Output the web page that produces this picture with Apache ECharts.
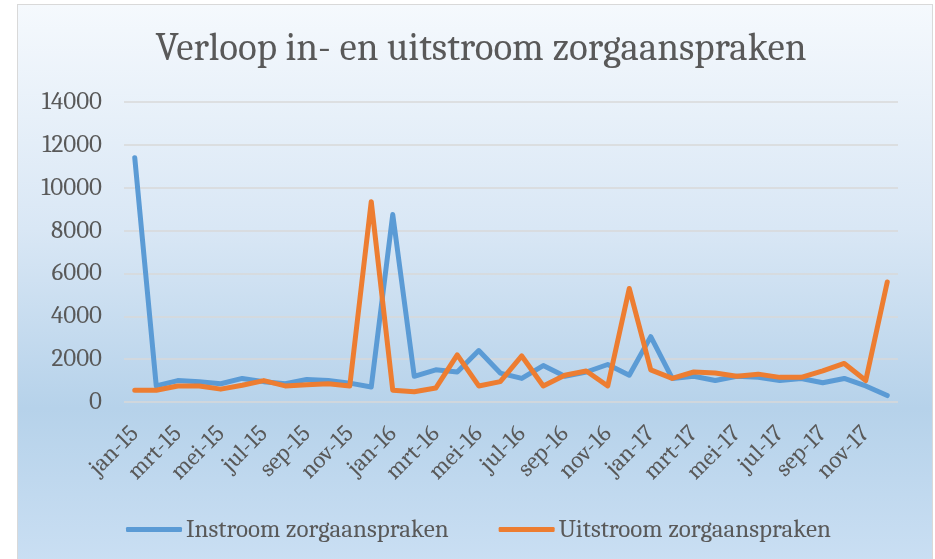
<!DOCTYPE html>
<html>
<head>
<meta charset="utf-8">
<script src="https://cdn.jsdelivr.net/npm/echarts@6/dist/echarts.min.js"></script>
<style>
html,body{margin:0;padding:0;background:#fff;}
#frame{position:absolute;left:17px;top:4px;width:914px;height:560px;border:1px solid #d9d9d9;
background:linear-gradient(to bottom,#f5f9fd 0%,#d9e7f5 40%,#b6d2ea 72%,#cadff3 100%);}
#chart{position:absolute;left:0;top:0;width:935px;height:559px;}
</style>
</head>
<body>
<div id="frame"></div>
<div id="chart"></div>
<script>
const categories = ['jan-15','feb-15','mrt-15','apr-15','mei-15','jun-15','jul-15','aug-15','sep-15','okt-15','nov-15','dec-15',
'jan-16','feb-16','mrt-16','apr-16','mei-16','jun-16','jul-16','aug-16','sep-16','okt-16','nov-16','dec-16',
'jan-17','feb-17','mrt-17','apr-17','mei-17','jun-17','jul-17','aug-17','sep-17','okt-17','nov-17','dec-17'];
const instroom = [11400,750,1000,950,850,1100,950,850,1050,1000,880,700,
8750,1200,1500,1400,2400,1350,1100,1700,1200,1400,1750,1250,
3050,1100,1200,1000,1200,1150,1000,1100,900,1100,750,300];
const uitstroom = [550,550,750,750,600,780,1000,750,800,850,750,9350,
550,480,650,2200,750,950,2150,750,1250,1450,750,5300,
1500,1100,1400,1350,1200,1300,1150,1150,1450,1800,1000,5600];
const yTicks = {min:0, max:14000, interval:2000};
const seriesNames = ['Instroom zorgaanspraken','Uitstroom zorgaanspraken'];

const font = 'Cambria, "Liberation Serif", "DejaVu Serif", serif';
const chart = echarts.init(document.getElementById('chart'), null, {renderer:'canvas'});
chart.setOption({
  backgroundColor:'transparent',
  animation:false,
  title:{text:'Verloop in- en uitstroom zorgaanspraken', left:476, textAlign:'center', top:24,
    textStyle:{fontFamily:font, fontSize:39, fontWeight:'normal', color:'#595959'}},
  legend:{top:512, left:121, itemGap:50, itemWidth:56, itemHeight:5,
    icon:'roundRect',
    textStyle:{fontFamily:font, fontSize:25, color:'#595959', padding:[0,0,0,-1]},
    data:seriesNames},
  grid:{left:124, right:37, top:102, bottom:157, containLabel:false},
  xAxis:{type:'category', data:categories, boundaryGap:true,
    axisLine:{show:false}, axisTick:{show:false},
    axisLabel:{interval:1, rotate:45, fontFamily:font, fontSize:24, color:'#595959', margin:28, hideOverlap:false}},
  yAxis:{type:'value', min:yTicks.min, max:yTicks.max, interval:yTicks.interval,
    axisLine:{show:false}, axisTick:{show:false},
    axisLabel:{fontFamily:font, fontSize:25, color:'#595959', margin:22, formatter:v=>String(v)},
    splitLine:{lineStyle:{color:'#d9d9d9', width:1.5}}},
  series:[
    {name:seriesNames[0], type:'line', data:instroom, symbol:'none', lineStyle:{width:5, color:'#5b9bd5', cap:'round', join:'round'}, itemStyle:{color:'#5b9bd5'}},
    {name:seriesNames[1], type:'line', data:uitstroom, symbol:'none', lineStyle:{width:5, color:'#ed7d31', cap:'round', join:'round'}, itemStyle:{color:'#ed7d31'}}
  ]
});
</script>
</body>
</html>
